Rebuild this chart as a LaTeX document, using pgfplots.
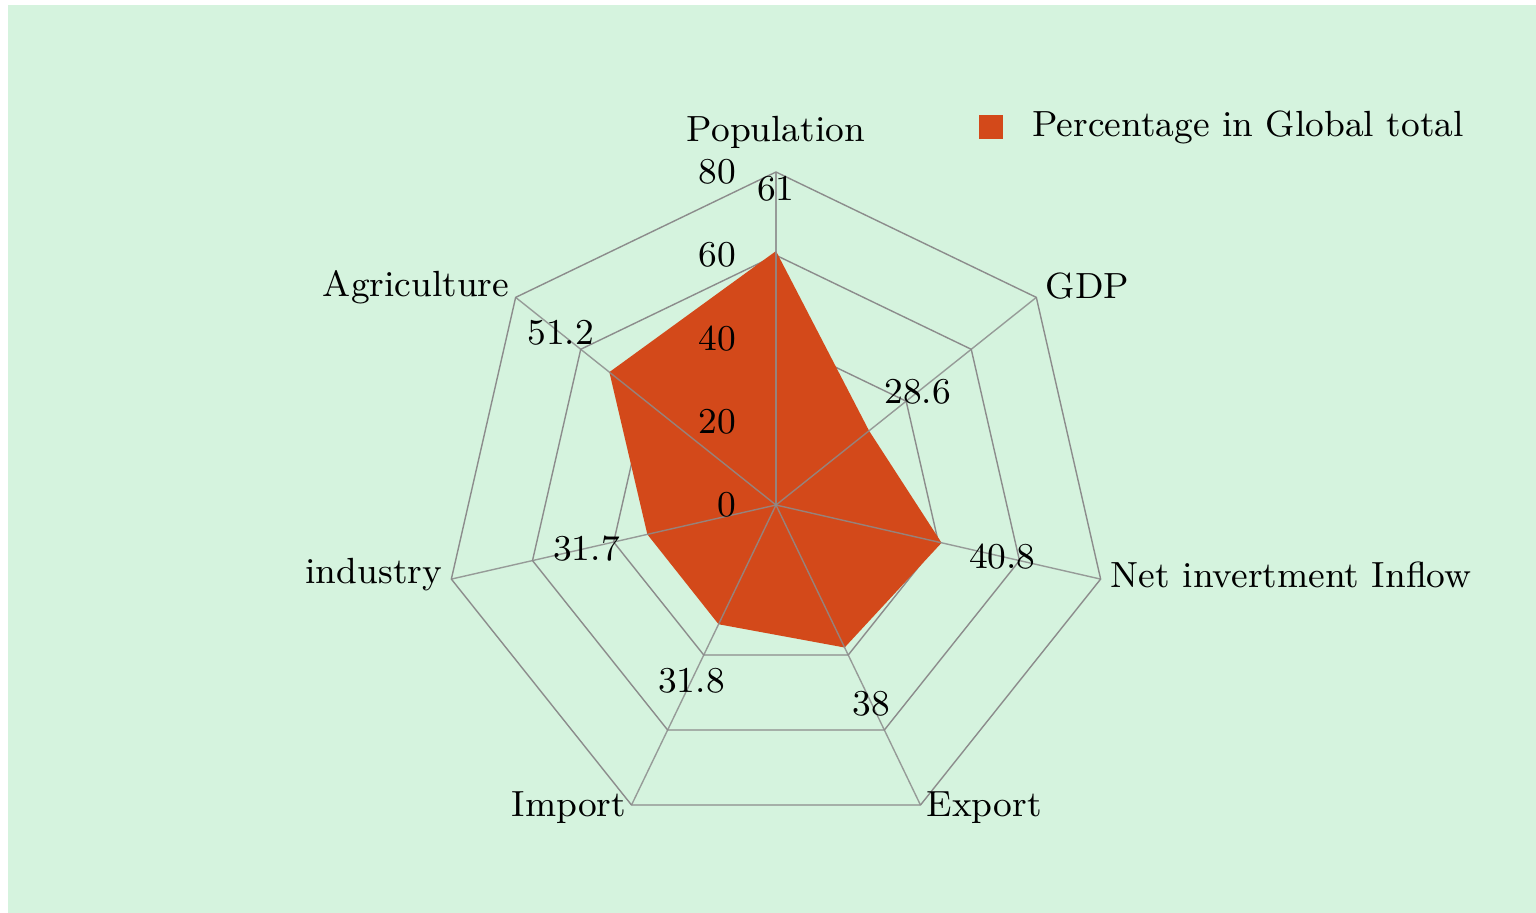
\documentclass[border=0pt]{standalone}
\usepackage{pgfplots}
\pgfplotsset{compat=1.18}
\usepgfplotslibrary{polar}
\definecolor{bgmint}{HTML}{D5F3DE}
\definecolor{radarfill}{HTML}{D3491A}
\definecolor{gridgray}{HTML}{8C8C8C}

\begin{document}
\begin{tikzpicture}[font=\fontsize{9.1}{11}\selectfont]
% page 1536x913 px at 0.25pt per px
\path (0,0) rectangle (384pt,228.25pt);
\fill[bgmint] (2pt,0) rectangle (384pt,227pt);

\begin{polaraxis}[
  at={(194pt,102pt)}, anchor=center,
  scale only axis, width=166.5pt, height=166.5pt,
  xmin=0, xmax=360, ymin=0, ymax=80,
  hide axis, clip=false,
  legend style={draw=none, fill=none, inner sep=0pt, at={(0.803,1.068)}, anchor=west,
    font=\fontsize{9.1}{11}\selectfont},
  legend image code/.code={\fill[radarfill] (0pt,-3pt) rectangle (6pt,3pt);},
]
% polygon rings (under the data)
\pgfplotsinvokeforeach{20,40,60,80}{
  \addplot[gridgray, line width=0.35pt, forget plot] coordinates {
    (90,#1) (38.5714,#1) (347.1429,#1) (295.7143,#1) (244.2857,#1) (192.8571,#1) (141.4286,#1) (90,#1)};
}

% data polygon
\addplot[fill=radarfill, draw=none] coordinates {
  (90,61) (38.5714,28.6) (347.1429,40.8) (295.7143,38)
  (244.2857,31.8) (192.8571,31.7) (141.4286,51.2) (90,61)};
\addlegendentry{\hspace{5.5pt}Percentage in Global total}

% spokes (over the data)
\pgfplotsinvokeforeach{90,38.5714,347.1429,295.7143,244.2857,192.8571,141.4286}{
  \addplot[gridgray, draw opacity=0.85, line width=0.35pt, forget plot] coordinates {(#1,0) (#1,80)};
}

% value labels, pushed outward along each spoke
\addplot[draw=none, forget plot, nodes near coords, point meta=explicit symbolic,
  visualization depends on=rawx \as \ang,
  every node near coord/.style={anchor=center, inner sep=0pt,
    xshift={15.6*cos(\ang)}, yshift={15.6*sin(\ang)}}]
  coordinates {
  (90,61) [61] (38.5714,28.6) [28.6] (347.1429,40.8) [40.8] (295.7143,38) [38]
  (244.2857,31.8) [31.8] (192.8571,31.7) [31.7] (141.4286,51.2) [51.2]};

% radial scale
\pgfplotsinvokeforeach{0,20,40,60,80}{
  \node[anchor=east, inner sep=0pt, xshift=-9.8pt] at (axis cs:90,#1) {#1};
}

% category labels
\node[anchor=center, inner sep=0pt] at (axis cs:90,89.6) {Population};
\node[anchor=west, inner sep=0pt] at (axis cs:39.15,83.3) {GDP};
\node[anchor=west, inner sep=0pt] at (axis cs:348.16,82.0) {Net invertment Inflow};
\node[anchor=west, inner sep=0pt] at (axis cs:296.34,81.2) {Export};
\node[anchor=east, inner sep=0pt] at (axis cs:243.8,81.1) {Import};
\node[anchor=east, inner sep=0pt] at (axis cs:191.87,81.8) {industry};
\node[anchor=east, inner sep=0pt] at (axis cs:140.67,82.6) {Agriculture};
\end{polaraxis}
\end{tikzpicture}
\end{document}
